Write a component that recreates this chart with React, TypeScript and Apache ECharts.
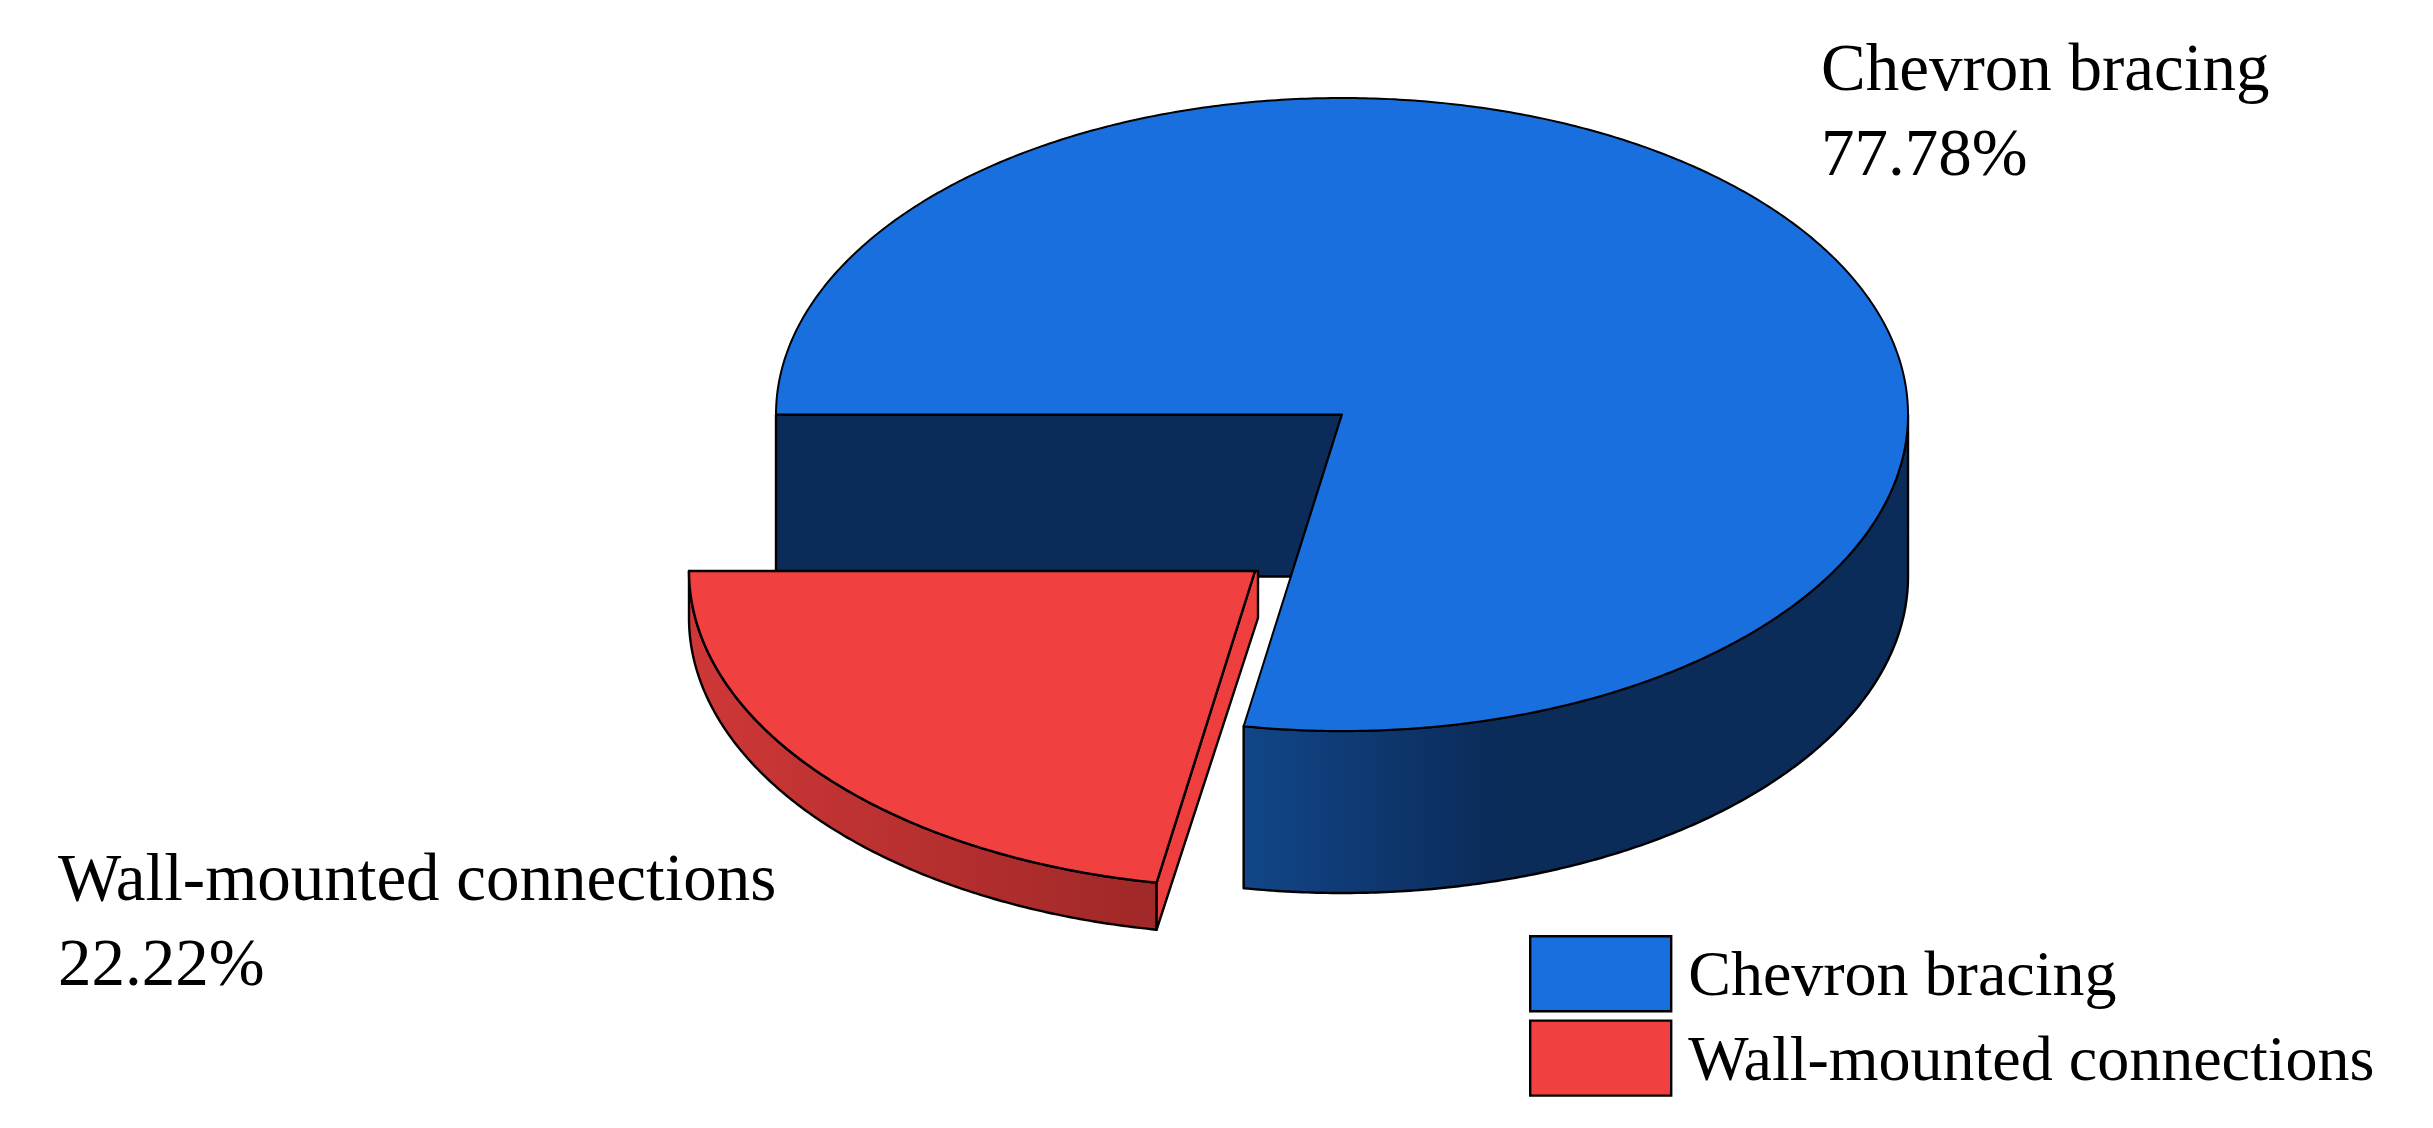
import React, { useEffect, useRef } from "react";
import * as echarts from "echarts";

const categories = ["Chevron bracing", "Wall-mounted connections"];
const shares = [77.78, 22.22];
const total = shares.reduce((a, b) => a + b, 0);

const FONT = "'Liberation Serif', 'Times New Roman', serif";
const CX = 1342, CY = 414.5, RX = 566, RY = 316.5;
const START_DEG = 180; // slices are laid out from the left edge, going down
const BLUE_DEPTH = 162, RED_DEPTH = 47;
const RED_DX = -87, RED_DY = 156.5;

const rad = (d: number) => (d * Math.PI) / 180;
const pt = (cx: number, cy: number, deg: number): number[] => [
  cx + RX * Math.cos(rad(deg)),
  cy + RY * Math.sin(rad(deg)),
];
const arc = (cx: number, cy: number, from: number, to: number): number[][] => {
  const n = Math.max(2, Math.ceil(Math.abs(to - from) * 2));
  const out: number[][] = [];
  for (let i = 0; i <= n; i++) out.push(pt(cx, cy, from + ((to - from) * i) / n));
  return out;
};
const poly = (points: number[][], fill: any, lineWidth = 2.4) => ({
  type: "polygon",
  shape: { points },
  style: { fill, stroke: "#000", lineWidth, lineJoin: "round" },
});
const text = (t: string, x: number, baseline: number, size: number) => ({
  type: "text",
  style: {
    text: t,
    x,
    y: baseline + 8,
    fill: "#000",
    fontFamily: FONT,
    fontSize: size,
    verticalAlign: "bottom",
    textVerticalAlign: "bottom",
  },
});

const renderBlue = (_p: any, api: any) => {
  const sweep = (api.value(0) / total) * 360;
  const cutDeg = START_DEG - (360 - sweep); // where the missing slice ends
  const cut = pt(CX, CY, cutDeg);
  const t = BLUE_DEPTH / (cut[1] - CY);
  const wallEnd = [CX + (cut[0] - CX) * t, CY + BLUE_DEPTH];
  const side = [
    ...arc(CX, CY, cutDeg, 0),
    ...arc(CX, CY + BLUE_DEPTH, 0, cutDeg),
  ];
  const top = [[CX, CY], ...arc(CX, CY, cutDeg, cutDeg - sweep)];
  return {
    type: "group",
    children: [
      poly([[CX - RX, CY], [CX, CY], wallEnd, [CX - RX, CY + BLUE_DEPTH]], "#0b2b59"),
      poly(side, new echarts.graphic.LinearGradient(0, 0, 1, 0, [
        { offset: 0, color: "#124688" },
        { offset: 0.38, color: "#0b2b59" },
        { offset: 1, color: "#0b2b59" },
      ])),
      poly(top, "#1a6fdf", 2),
      text(categories[0], 1821, 92, 67),
      text(`${api.value(0).toFixed(2)}%`, 1821, 177, 67),
    ],
  };
};

const renderRed = (_p: any, api: any) => {
  const sweep = (api.value(0) / total) * 360;
  const cx = CX + RED_DX, cy = CY + RED_DY;
  const end = START_DEG - sweep;
  const tip = pt(cx, cy, end);
  const side = [...arc(cx, cy, START_DEG, end), ...arc(cx, cy + RED_DEPTH, end, START_DEG)];
  const face = [
    [cx, cy],
    [cx + 3, cy],
    [cx + 3, cy + RED_DEPTH],
    [tip[0], tip[1] + RED_DEPTH],
    tip,
  ];
  return {
    type: "group",
    children: [
      poly(side, new echarts.graphic.LinearGradient(0, 0, 1, 0, [
        { offset: 0, color: "#cf3737" },
        { offset: 1, color: "#a02828" },
      ])),
      poly(face, "#ee3e3e"),
      poly([[cx, cy], ...arc(cx, cy, START_DEG, end)], "#f14040"),
      text(categories[1], 58, 902, 67),
      text(`${api.value(0).toFixed(2)}%`, 58, 987, 67),
    ],
  };
};

export default function App() {
  const ref = useRef<HTMLDivElement>(null);
  useEffect(() => {
    const chart = echarts.init(ref.current!, undefined, { renderer: "svg" });
    chart.setOption({
      animation: false,
      backgroundColor: "#fff",
      legend: {
        orient: "vertical",
        left: 1529,
        top: 935,
        padding: 0,
        itemWidth: 141,
        itemHeight: 75,
        itemGap: 7,
        icon: "rect",
        data: categories,
        itemStyle: { borderColor: "#000", borderWidth: 2.4 },
        textStyle: { fontFamily: FONT, fontSize: 64, color: "#000", padding: [0, 0, 0, 12] },
      },
      series: [
        {
          type: "custom",
          name: categories[0],
          coordinateSystem: "none",
          renderItem: renderBlue,
          itemStyle: { color: "#1a6fdf" },
          data: [[shares[0]]],
        },
        {
          type: "custom",
          name: categories[1],
          coordinateSystem: "none",
          renderItem: renderRed,
          itemStyle: { color: "#f14040" },
          data: [[shares[1]]],
        },
      ],
    });
    return () => chart.dispose();
  }, []);
  return <div ref={ref} style={{ position: "absolute", left: 0, top: 0, width: 2433, height: 1128 }} />;
}
